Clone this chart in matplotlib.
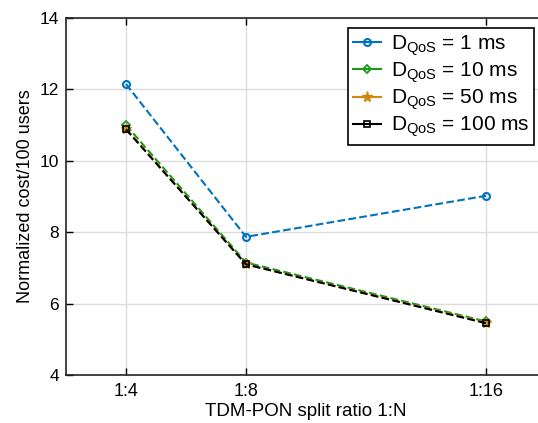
import matplotlib
matplotlib.use("Agg")
import matplotlib.pyplot as plt

plt.rcParams['font.family'] = ['Liberation Sans', 'DejaVu Sans']
plt.rcParams['mathtext.fontset'] = 'custom'
plt.rcParams['mathtext.rm'] = 'Liberation Sans'
plt.rcParams['mathtext.it'] = 'Liberation Sans'

N = [4, 8, 16]
xtick_labels = ['1:4', '1:8', '1:16']
d1 = [12.15, 7.87, 9.02]
d10 = [11.0, 7.15, 5.50]
d50 = [10.90, 7.10, 5.47]
d100 = [10.88, 7.10, 5.45]
labels = [r'D$_{\mathrm{QoS}}$ = 1 ms', r'D$_{\mathrm{QoS}}$ = 10 ms',
          r'D$_{\mathrm{QoS}}$ = 50 ms', r'D$_{\mathrm{QoS}}$ = 100 ms']

fig = plt.figure(figsize=(5.38, 4.23), dpi=100)
ax = fig.add_axes([66/538, 1-375/423, (546-66)/538, (375-18)/423])

ax.plot(N, d1, '--', color='#0072BD', marker='o', mfc='none', ms=5, mew=1.5, lw=1.5, label=labels[0])
ax.plot(N, d10, '--', color='#1B9A1B', marker='D', mfc='none', ms=4.5, mew=1.3, lw=1.5, label=labels[1])
ax.plot(N, d50, '--', color='#D08A10', marker='*', mfc='#D08A10', ms=8, mew=1, lw=1.5, label=labels[2])
ax.plot(N, d100, '--', color='black', marker='s', mfc='none', ms=4, mew=1.2, lw=1.5, label=labels[3])

ax.set_xlim(2, 18)
ax.set_ylim(4, 14)
ax.set_xticks(N)
ax.set_xticklabels(xtick_labels)
ax.set_yticks([4, 6, 8, 10, 12, 14])
ax.grid(True, color='#dcdcdc', lw=1)
ax.set_axisbelow(True)
ax.tick_params(direction='in', length=5, width=1, labelsize=12.5, top=True, right=True, pad=5)
ax.tick_params(axis='x', labelsize=13, pad=6)
for s in ax.spines.values():
    s.set_linewidth(1.2)
    s.set_color('#222222')
ax.set_xlabel('TDM-PON split ratio 1:N', fontsize=13.5, labelpad=2)
ax.set_ylabel('Normalized cost/100 users', fontsize=13, labelpad=4)

leg = ax.legend(loc='upper left', bbox_to_anchor=((348-66)/480, 1-(28-18)/357), fontsize=15,
                frameon=True, fancybox=False, edgecolor='black', framealpha=1,
                handlelength=1.35, handletextpad=0.45, borderpad=0.25, labelspacing=0.13, borderaxespad=0)
leg.get_frame().set_linewidth(1.2)
for ln in leg.get_lines():
    ln.set_linestyle('-')

fig.savefig('out.png', dpi=100)
